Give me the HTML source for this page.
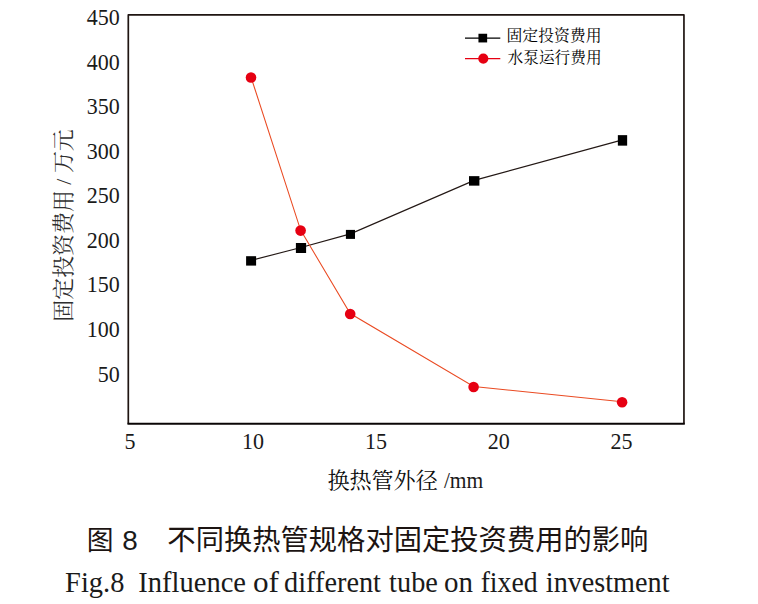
<!DOCTYPE html>
<html><head><meta charset="utf-8"><title>Fig.8</title>
<style>
html,body{margin:0;padding:0;background:#fff;}
body{width:758px;height:604px;overflow:hidden;font-family:"Liberation Serif",serif;}
svg{display:block;}
svg text{font-family:"Liberation Serif","Noto Serif CJK SC",serif;fill:#1a1a1a;}
</style></head><body>
<svg width="758" height="604" viewBox="0 0 758 604" role="img" aria-label="图 8 不同换热管规格对固定投资费用的影响 Fig.8 Influence of different tube on fixed investment">
<rect width="758" height="604" fill="#fff"/>
<path d="M128.30 423.80V14.95H683.95V423.80" fill="none" stroke="#1f1512" stroke-width="1.70" stroke-linejoin="round"/>
<line x1="127.45" y1="423.80" x2="684.80" y2="423.80" stroke="#0a0505" stroke-width="1.90"/>
<polyline fill="none" stroke="#231815" stroke-width="1.15" points="251.1,260.4 301.0,247.5 350.4,233.9 474.2,180.4 622.5,139.9"/>
<polyline fill="none" stroke="#ea4a22" stroke-width="1.05" points="251.0,77.0 300.6,230.1 350.2,313.5 473.6,386.5 622.1,401.8"/>
<rect x="246.10" y="256.20" width="10.00" height="9.40" fill="#000"/>
<rect x="295.90" y="243.00" width="10.20" height="10.00" fill="#000"/>
<rect x="345.90" y="229.90" width="9.10" height="9.00" fill="#000"/>
<rect x="469.00" y="176.15" width="10.40" height="9.50" fill="#000"/>
<rect x="617.85" y="135.15" width="9.30" height="10.50" fill="#000"/>
<circle cx="251.00" cy="77.50" r="5.30" fill="#e60012"/>
<circle cx="300.60" cy="230.60" r="5.30" fill="#e60012"/>
<circle cx="350.20" cy="314.00" r="5.30" fill="#e60012"/>
<circle cx="473.60" cy="387.00" r="5.30" fill="#e60012"/>
<circle cx="622.10" cy="402.30" r="5.30" fill="#e60012"/>
<line x1="465.0" y1="38.1" x2="500.3" y2="38.1" stroke="#000" stroke-width="1.30"/>
<rect x="478.45" y="33.75" width="8.70" height="8.70" fill="#000"/>
<line x1="465.0" y1="58.6" x2="500.3" y2="58.6" stroke="#e60012" stroke-width="1.30"/>
<circle cx="483.30" cy="58.60" r="5.10" fill="#e60012"/>
<text x="506.5" y="41.05" font-size="15.8" textLength="95" lengthAdjust="spacingAndGlyphs" style="fill:#000">固定投资费用</text>
<text x="507.6" y="63.49" font-size="15.7" textLength="94" lengthAdjust="spacingAndGlyphs" style="fill:#000">水泵运行费用</text>
<text x="0" y="0" transform="translate(70.58 321.7) rotate(-90)" font-size="21.5" textLength="192.5" lengthAdjust="spacingAndGlyphs" style="fill:#2e2e2e">固定投资费用 / 万元</text>
<text x="327.4" y="488.4" font-size="22.1" textLength="110.4" lengthAdjust="spacingAndGlyphs" style="fill:#0a0a0a">换热管外径</text>
<text x="86.65" y="549.9" font-size="26.8" style="font-family:'Liberation Sans','Noto Sans CJK SC',sans-serif;fill:#1c1412">图</text>
<text x="167.36" y="549.87" font-size="28.3" textLength="481" lengthAdjust="spacingAndGlyphs" style="font-family:'Liberation Sans','Noto Sans CJK SC',sans-serif;fill:#1c1412">不同换热管规格对固定投资费用的影响</text>
<text x="86.74" y="0" transform="translate(0 25.20) scale(1 1.0700)" font-size="22" textLength="33.00" lengthAdjust="spacingAndGlyphs">450</text>
<text x="86.74" y="0" transform="translate(0 69.82) scale(1 1.0700)" font-size="22" textLength="33.00" lengthAdjust="spacingAndGlyphs">400</text>
<text x="86.74" y="0" transform="translate(0 114.44) scale(1 1.0700)" font-size="22" textLength="33.00" lengthAdjust="spacingAndGlyphs">350</text>
<text x="86.74" y="0" transform="translate(0 159.06) scale(1 1.0700)" font-size="22" textLength="33.00" lengthAdjust="spacingAndGlyphs">300</text>
<text x="86.74" y="0" transform="translate(0 202.75) scale(1 1.0700)" font-size="22" textLength="33.00" lengthAdjust="spacingAndGlyphs">250</text>
<text x="86.74" y="0" transform="translate(0 248.29) scale(1 1.0700)" font-size="22" textLength="33.00" lengthAdjust="spacingAndGlyphs">200</text>
<text x="86.74" y="0" transform="translate(0 291.85) scale(1 1.0700)" font-size="22" textLength="33.00" lengthAdjust="spacingAndGlyphs">150</text>
<text x="86.74" y="0" transform="translate(0 337.05) scale(1 1.0700)" font-size="22" textLength="33.00" lengthAdjust="spacingAndGlyphs">100</text>
<text x="97.74" y="0" transform="translate(0 382.15) scale(1 1.0700)" font-size="22" textLength="22.00" lengthAdjust="spacingAndGlyphs">50</text>
<text x="124.50" y="0" transform="translate(0 449.20) scale(1 1.0700)" font-size="22" textLength="11.00" lengthAdjust="spacingAndGlyphs">5</text>
<text x="242.00" y="0" transform="translate(0 449.20) scale(1 1.0700)" font-size="22" textLength="22.00" lengthAdjust="spacingAndGlyphs">10</text>
<text x="364.90" y="0" transform="translate(0 449.20) scale(1 1.0700)" font-size="22" textLength="22.00" lengthAdjust="spacingAndGlyphs">15</text>
<text x="487.70" y="0" transform="translate(0 449.20) scale(1 1.0700)" font-size="22" textLength="22.00" lengthAdjust="spacingAndGlyphs">20</text>
<text x="610.60" y="0" transform="translate(0 449.20) scale(1 1.0700)" font-size="22" textLength="22.00" lengthAdjust="spacingAndGlyphs">25</text>
<text x="443.90" y="0" transform="translate(0 488.00) scale(1 1.0700)" font-size="21" textLength="39.44" lengthAdjust="spacingAndGlyphs">/mm</text>
<text x="122.19" y="0" transform="translate(0 549.50) scale(1 1.0000)" font-size="27" textLength="15.53" lengthAdjust="spacingAndGlyphs" style="font-family:'Liberation Sans'" fill="#1c1412">8</text>
<text x="65.08" y="0" transform="translate(0 591.70) scale(1 1.0550)" font-size="28" textLength="59.30" lengthAdjust="spacingAndGlyphs" fill="#1c1412">Fig.8</text>
<text x="138.37" y="0" transform="translate(0 591.70) scale(1 1.0550)" font-size="28" textLength="107.62" lengthAdjust="spacingAndGlyphs" fill="#1c1412">Influence</text>
<text x="253.01" y="0" transform="translate(0 591.70) scale(1 1.0550)" font-size="28" textLength="25.99" lengthAdjust="spacingAndGlyphs" fill="#1c1412">of</text>
<text x="284.08" y="0" transform="translate(0 591.70) scale(1 1.0550)" font-size="28" textLength="96.88" lengthAdjust="spacingAndGlyphs" fill="#1c1412">different</text>
<text x="389.12" y="0" transform="translate(0 591.70) scale(1 1.0550)" font-size="28" textLength="48.76" lengthAdjust="spacingAndGlyphs" fill="#1c1412">tube</text>
<text x="444.00" y="0" transform="translate(0 591.70) scale(1 1.0550)" font-size="28" textLength="28.94" lengthAdjust="spacingAndGlyphs" fill="#1c1412">on</text>
<text x="480.65" y="0" transform="translate(0 591.70) scale(1 1.0550)" font-size="28" textLength="56.89" lengthAdjust="spacingAndGlyphs" fill="#1c1412">fixed</text>
<text x="545.81" y="0" transform="translate(0 591.70) scale(1 1.0550)" font-size="28" textLength="123.66" lengthAdjust="spacingAndGlyphs" fill="#1c1412">investment</text>
</svg>
</body></html>
